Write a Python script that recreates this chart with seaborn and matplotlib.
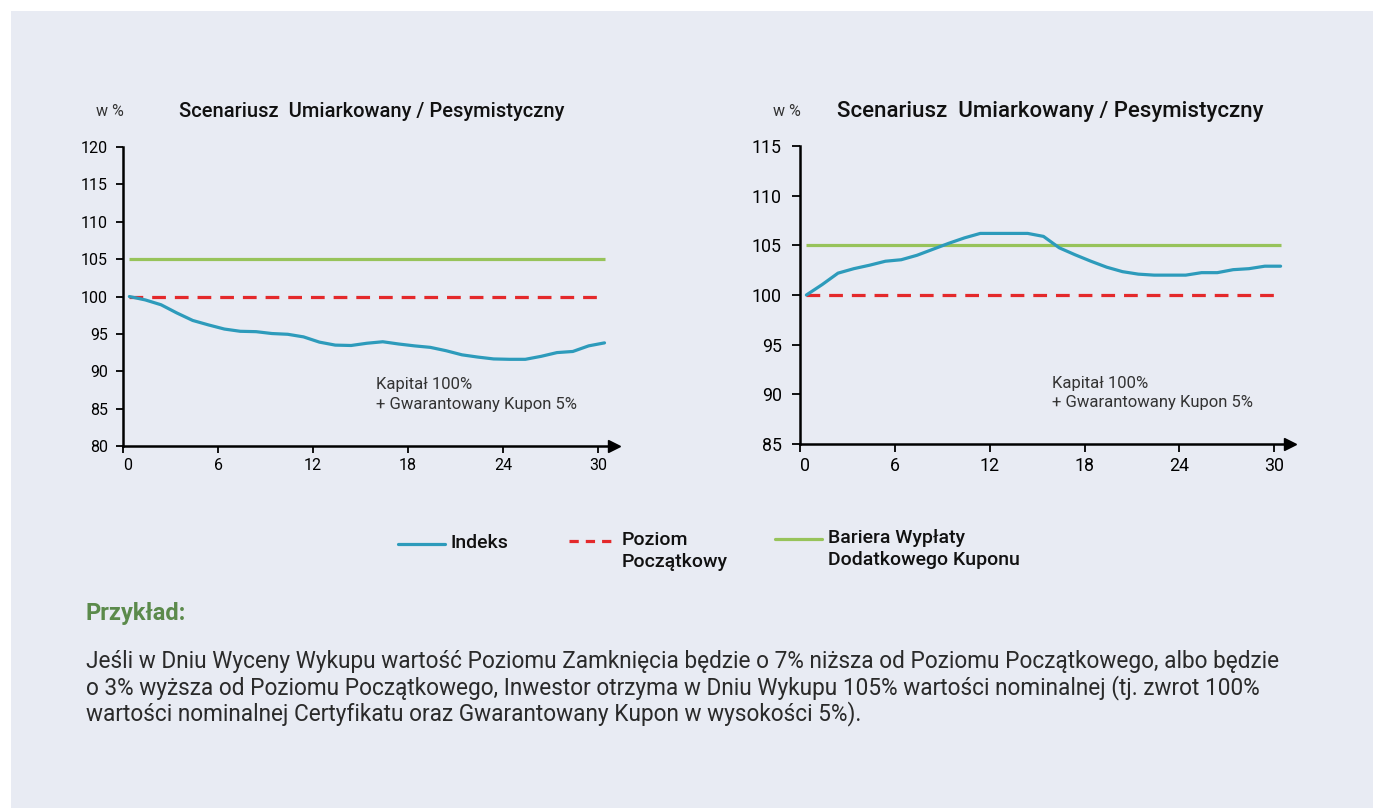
import matplotlib
matplotlib.use("Agg")
import matplotlib.pyplot as plt
import seaborn as sns
import pandas as pd
from matplotlib.patches import Rectangle
from matplotlib.lines import Line2D

# months on the x axis
miesiace = list(range(31))

# index path, scenario 1 (ends ~7% lower)
indeks_1 = [100.0, 99.55, 98.9, 97.8, 96.8, 96.2, 95.65, 95.35, 95.3, 95.05, 94.95,
            94.6, 93.9, 93.5, 93.45, 93.75, 93.95, 93.65, 93.4, 93.2, 92.75,
            92.2, 91.9, 91.65, 91.6, 91.6, 92.0, 92.5, 92.65, 93.4, 93.8]

# index path, scenario 2 (ends ~3% higher)
indeks_2 = [100.0, 101.05, 102.2, 102.65, 103.0, 103.4, 103.55, 104.0, 104.6, 105.2, 105.75,
            106.2, 106.2, 106.2, 106.2, 105.9, 104.75, 104.05, 103.4, 102.8, 102.35,
            102.1, 102.0, 102.0, 102.0, 102.25, 102.25, 102.55, 102.65, 102.9, 102.9]

poziom_poczatkowy = 100
bariera = 105

x_ticks = [0, 6, 12, 18, 24, 30]
y_ticks_1 = [80, 85, 90, 95, 100, 105, 110, 115, 120]
y_ticks_2 = [85, 90, 95, 100, 105, 110, 115]

title = "Scenariusz  Umiarkowany / Pesymistyczny"
note = "Kapitał 100%\n+ Gwarantowany Kupon 5%"
legend_labels = ["Indeks", "Poziom\nPoczątkowy", "Bariera Wypłaty\nDodatkowego Kuponu"]
body_lines = [
    "Jeśli w Dniu Wyceny Wykupu wartość Poziomu Zamknięcia będzie o 7% niższa od Poziomu Początkowego, albo będzie",
    "o 3% wyższa od Poziomu Początkowego, Inwestor otrzyma w Dniu Wykupu 105% wartości nominalnej (tj. zwrot 100%",
    "wartości nominalnej Certyfikatu oraz Gwarantowany Kupon w wysokości 5%).",
]

BLUE = "#2d9bbb"
RED = "#e4292b"
GREEN = "#97c35a"
PANEL = "#e8ebf3"
FONT = ["Roboto", "DejaVu Sans"]

sns.set_style("ticks")
plt.rcParams["font.family"] = FONT
plt.rcParams["text.color"] = "#111111"

fig = plt.figure(figsize=(13.73, 8.08), dpi=100)
fig.patch.set_facecolor("white")
fig.patches.append(Rectangle((11 / 1373, 0), 1, 1 - 11 / 808, transform=fig.transFigure,
                             facecolor=PANEL, edgecolor="none", zorder=-10))

shift = 0.4  # lines start a little right of the y axis
# rect, data, ylim, yticks, title x, "w %" x, title size, tick size, tick len, y pad
panels = [
    ([0.0896, 0.448, 0.3576, 0.370], indeks_1, (80, 120), y_ticks_1, 0.271, 0.0801, 14.5, 11.5, 4.7, 6),
    ([0.5827, 0.4505, 0.3569, 0.3688], indeks_2, (85, 115), y_ticks_2, 0.7647, 0.5732, 16, 12.8, 5.7, 7.5),
]

for rect, values, ylim, yticks, tx, wx, tsize, lsize, tlen, ypad in panels:
    ax = fig.add_axes(rect)
    ax.set_facecolor("none")
    df = pd.DataFrame({"m": [m + shift for m in miesiace], "v": values})
    xs = df["m"]
    ax.hlines(bariera, xs.iloc[0], xs.iloc[-1], color=GREEN, lw=2.3, zorder=2)
    ax.plot([xs.iloc[0], xs.iloc[-1]], [poziom_poczatkowy] * 2, color=RED, lw=2.3,
            dashes=(4.3, 2.8), zorder=3)
    sns.lineplot(data=df, x="m", y="v", ax=ax, color=BLUE, lw=2.3, zorder=4)
    ax.set_xlim(0, 31)
    ax.set_ylim(*ylim)
    ax.set_xticks(x_ticks)
    ax.set_yticks(yticks)
    ax.set_xlabel("")
    ax.set_ylabel("")
    sns.despine(ax=ax)
    for s in ["left", "bottom"]:
        ax.spines[s].set_linewidth(1.8)
        ax.spines[s].set_color("black")
    ax.tick_params(axis="both", length=tlen, width=1.3, labelsize=lsize, colors="black")
    ax.tick_params(axis="y", pad=ypad)
    ax.tick_params(axis="x", pad=4)
    ax.get_xticklabels()[0].set_ha("left")
    ax.plot(1, 0, ">k", transform=ax.transAxes, clip_on=False, markersize=9)
    ax.text(0.515, 0.172, note, transform=ax.transAxes, fontsize=12, color="#333333",
            va="center", ha="left", linespacing=1.35)
    fig.text(tx, 0.8626, title, fontsize=tsize, fontweight="medium", ha="center", va="center")
    fig.text(wx, 0.8626, "w %", fontsize=11.5, color="#333333", ha="center", va="center")

# legend, drawn by hand so keys line up with the first label line
keys = [
    (0.2899, 0.3241, 0.3267, BLUE, "-"),
    (0.4144, 0.4487, 0.3304, RED, "--"),
    (0.5645, 0.5987, 0.3329, GREEN, "-"),
]
for (x0, x1, y, c, ls), lab in zip(keys, legend_labels):
    ln = Line2D([x0, x1], [y, y], transform=fig.transFigure, color=c, lw=2.3)
    if ls == "--":
        ln.set_dashes((2.9, 2.2))
    fig.add_artist(ln)
    fig.text(x1 + 0.004, y + 0.012, lab, fontsize=14, fontweight="medium",
             ha="left", va="top", linespacing=1.25)

fig.text(0.0626, 0.2401, "Przykład:", fontsize=17, fontweight="bold", color="#5b8a4b",
         ha="left", va="center")
for i, line in enumerate(body_lines):
    fig.text(0.0626, 0.1807 - i * 0.0322, line, fontsize=16.3, color="#2a2a2a",
             fontweight="normal", ha="left", va="center")

fig.savefig("out.png", dpi=100, facecolor=fig.get_facecolor())
